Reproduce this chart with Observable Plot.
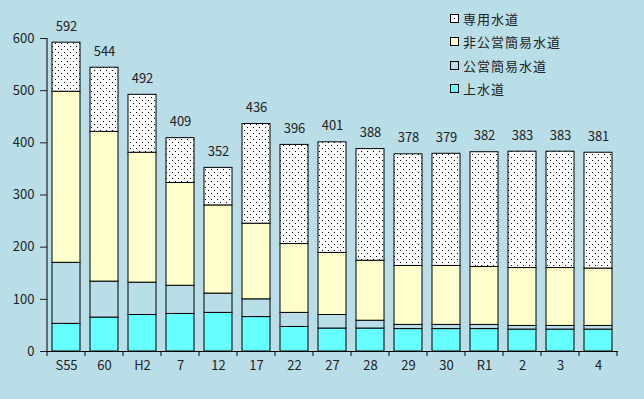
<!DOCTYPE html>
<html><head><meta charset="utf-8">
<script src="https://cdn.jsdelivr.net/npm/d3@7"></script>
<script src="https://cdn.jsdelivr.net/npm/@observablehq/plot@0.6"></script>
<style>
body{margin:0;background:#b9dee8;}
#wrap{position:relative;width:644px;height:399px;overflow:hidden;font-family:"Noto Sans CJK JP",sans-serif;}
.legend{position:absolute;left:450px;top:7px;font-size:13px;letter-spacing:1px;color:#222;line-height:1}
.legend div{height:23.3px;display:flex;align-items:center}
.sw{width:7px;height:7px;border:1px solid #000;margin-right:4px;flex:none}
</style></head><body><div id="wrap"></div>
<script>
const categories = ["S55","60","H2","7","12","17","22","27","28","29","30","R1","2","3","4"];
const seriesNames = ["上水道","公営簡易水道","非公営簡易水道","専用水道"];
const jousuidou = [53,65,70,72,74,66,47,44,44,43,43,43,42,42,42];
const koueiKani = [117,69,62,54,37,34,27,26,15,8,8,8,7,7,7];
const hikoueiKani = [328,287,249,197,169,145,132,119,115,113,113,111,111,111,110];
const senyou = [94,123,111,86,72,191,190,212,214,214,215,220,223,223,222];
const totals = [592,544,492,409,352,436,396,401,388,378,379,382,383,383,381];
const yTicks = [0,100,200,300,400,500,600];

const bg = "#b9dee8";
const seriesArrays = [jousuidou, koueiKani, hikoueiKani, senyou];
const data = [];
categories.forEach((c, i) => seriesArrays.forEach((arr, k) => data.push({cat: c, series: seriesNames[k], value: arr[i]})));
const totalData = categories.map((c, i) => ({cat: c, total: totals[i]}));

const plot = Plot.plot({
  width: 644, height: 399,
  marginLeft: 47, marginRight: 26, marginTop: 38, marginBottom: 48,
  style: {background: "transparent", fontFamily: '"Noto Sans CJK JP", sans-serif', fontSize: "13px", color: "#222"},
  x: {domain: categories, paddingInner: 0.26, paddingOuter: 0.13, label: null, tickSize: 0, tickPadding: 9},
  y: {domain: [0, 600], ticks: yTicks, label: null, tickSize: 7, tickPadding: 6},
  color: {domain: seriesNames, range: ["#66ffff", bg, "#ffffcc", "url(#dots)"]},
  marks: [
    Plot.barY(data, {x: "cat", y: "value", fill: "series", stroke: "#000", strokeWidth: 1, order: null}),
    Plot.ruleY([0], {stroke: "#000"}),
    Plot.text(totalData, {x: "cat", y: "total", text: "total", dy: -16, fill: "#222", fontSize: 13})
  ]
});

const svg = d3.select(plot);
const defs = svg.insert("defs", ":first-child");
const pat = defs.append("pattern").attr("id", "dots").attr("patternUnits", "userSpaceOnUse").attr("width", 6).attr("height", 6);
pat.append("rect").attr("width", 6).attr("height", 6).attr("fill", "#fff");
pat.append("rect").attr("x", 1).attr("y", 1).attr("width", 1).attr("height", 1).attr("fill", "#000");
pat.append("rect").attr("x", 4).attr("y", 4).attr("width", 1).attr("height", 1).attr("fill", "#000");

const xs = plot.scale("x"), ys = plot.scale("y");
const gap = xs.step - xs.bandwidth;
const bounds = categories.map(c => xs.apply(c) - gap / 2);
bounds.push(xs.apply(categories[categories.length - 1]) + xs.bandwidth + gap / 2);
const g = svg.append("g").attr("stroke", "#000");
g.append("line").attr("x1", bounds[0]).attr("x2", bounds[0]).attr("y1", ys.apply(0)).attr("y2", ys.apply(600));
bounds.forEach(b => g.append("line").attr("x1", b).attr("x2", b).attr("y1", ys.apply(0)).attr("y2", ys.apply(0) + 5));

const wrap = document.getElementById("wrap");
wrap.appendChild(plot);
const legend = document.createElement("div");
legend.className = "legend";
const legendOrder = [3, 2, 1, 0];
const swatch = ["dots", "#ffffcc", bg, "#66ffff"];
legendOrder.forEach((k, j) => {
  const row = document.createElement("div");
  const sw = document.createElement("span");
  sw.className = "sw";
  if (k === 3) {
    sw.style.background = "#fff radial-gradient(circle, #000 0.8px, transparent 1px) center/7px 7px no-repeat";
  } else {
    sw.style.background = swatch[j];
  }
  row.appendChild(sw);
  row.appendChild(document.createTextNode(seriesNames[k]));
  legend.appendChild(row);
});
wrap.appendChild(legend);
</script>
</body></html>
